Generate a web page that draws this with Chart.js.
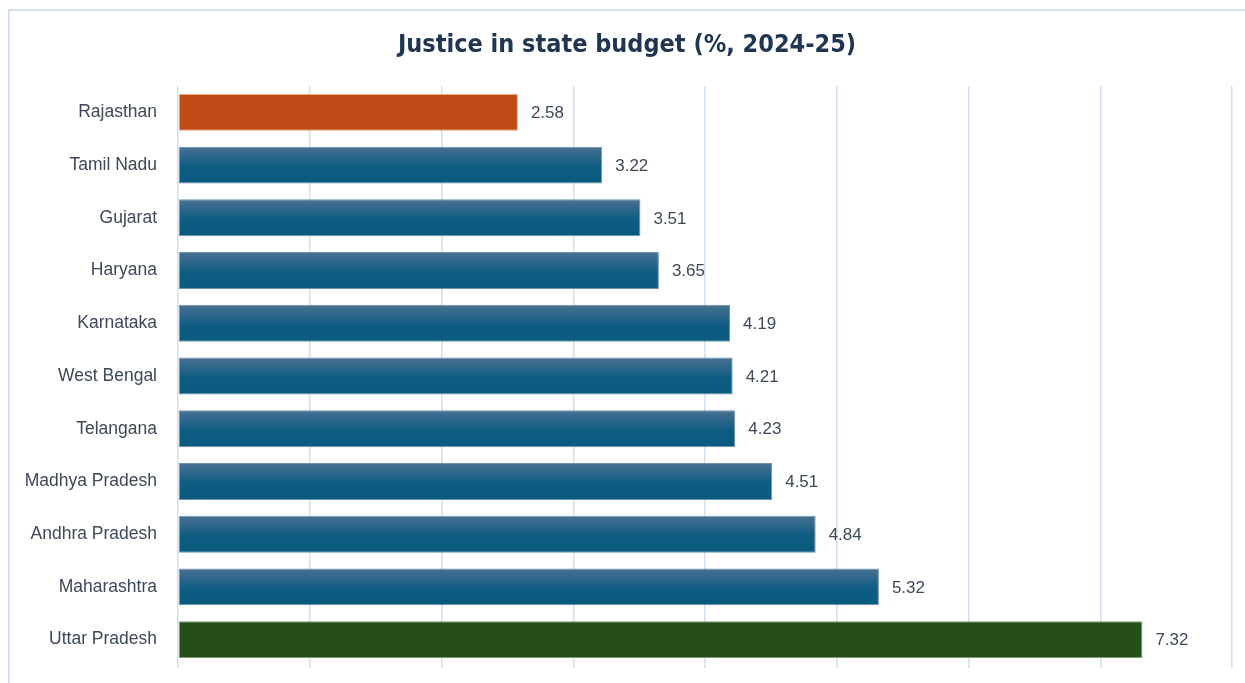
<!DOCTYPE html>
<html>
<head>
<meta charset="utf-8">
<script src="https://cdn.jsdelivr.net/npm/chart.js@4/dist/chart.umd.min.js"></script>
<style>
    body { margin: 0; background: #fff; }
    #wrap { width: 1245px; height: 683px; }
</style>
</head>
<body>
<div id="wrap"><canvas id="budgetChart" width="1245" height="683"></canvas></div>
<script>
const states = ["Rajasthan", "Tamil Nadu", "Gujarat", "Haryana", "Karnataka", "West Bengal",
    "Telangana", "Madhya Pradesh", "Andhra Pradesh", "Maharashtra", "Uttar Pradesh"];
const justiceShare = [2.58, 3.22, 3.51, 3.65, 4.19, 4.21, 4.23, 4.51, 4.84, 5.32, 7.32];
const axisMax = 8;

const labelFont = "'Liberation Sans', Arial, sans-serif";
const titleFont = "'Liberation Sans Narrow', 'DejaVu Sans Condensed', sans-serif";

// Blue bars are shaded top to bottom, the first and last have flat colours
function barFill(context) {
    const i = context.dataIndex;
    if (i === 0) return "#bf4b16";
    if (i === states.length - 1) return "#264f18";
    const chart = context.chart;
    const y = chart.scales.y;
    if (!y || !chart.chartArea) return "#0d5c82";
    const center = y.getPixelForValue(i);
    const half = 18.5;
    const grad = chart.ctx.createLinearGradient(0, center - half, 0, center + half);
    grad.addColorStop(0, "#4a7192");
    grad.addColorStop(0.55, "#0e5c82");
    grad.addColorStop(1, "#0a5a80");
    return grad;
}

function barEdge(context) {
    const i = context.dataIndex;
    if (i === 0) return "#e8a984";
    if (i === states.length - 1) return "#7f9a74";
    return "#6f93ad";
}

// Light frame in the top left corner
const framePlugin = {
    id: "frame",
    beforeDraw(chart) {
        const ctx = chart.ctx;
        ctx.save();
        ctx.strokeStyle = "#d3e1f2";
        ctx.lineWidth = 2;
        ctx.beginPath();
        ctx.moveTo(9, chart.height);
        ctx.lineTo(9, 10);
        ctx.lineTo(chart.width, 10);
        ctx.stroke();
        ctx.restore();
    }
};

// Value printed after the end of each bar
const valueLabels = {
    id: "valueLabels",
    afterDatasetsDraw(chart) {
        const ctx = chart.ctx;
        const meta = chart.getDatasetMeta(0);
        ctx.save();
        ctx.font = "17px " + labelFont;
        ctx.fillStyle = "#3d4858";
        ctx.textAlign = "left";
        ctx.textBaseline = "middle";
        meta.data.forEach((bar, i) => {
            ctx.fillText(justiceShare[i].toFixed(2), bar.x + 13, bar.y + 1);
        });
        ctx.restore();
    }
};

const ctx = document.getElementById("budgetChart").getContext("2d");
const chart = new Chart(ctx, {
    type: "bar",
    data: {
        labels: states,
        datasets: [{
            data: justiceShare,
            backgroundColor: barFill,
            borderColor: barEdge,
            borderWidth: 1,
            borderSkipped: false,
            barPercentage: 0.7,
            categoryPercentage: 1.0
        }]
    },
    options: {
        indexAxis: "y",
        responsive: false,
        animation: false,
        layout: {
            padding: { left: 22, right: 13, top: 0, bottom: 15 }
        },
        plugins: {
            legend: { display: false },
            tooltip: { enabled: false },
            title: {
                display: true,
                text: "Justice in state budget (%, 2024-25)",
                color: "#1f3552",
                font: { family: titleFont, size: 25, weight: "bold" },
                padding: { top: 30, bottom: 26 }
            }
        },
        scales: {
            x: {
                min: 0,
                max: axisMax,
                ticks: { display: false, stepSize: 1 },
                border: { display: false },
                grid: {
                    color: "#d2e0f1",
                    lineWidth: 1.5,
                    drawTicks: true,
                    tickLength: 2
                }
            },
            y: {
                ticks: {
                    color: "#3d4858",
                    font: { family: labelFont, size: 17.5 },
                    padding: 0
                },
                border: { display: false },
                // hidden grid, its tick length only spaces the labels from the bars
                grid: { display: false, drawTicks: true, tickLength: 21 },
                afterFit(scale) {
                    scale.width = 156;
                }
            }
        }
    },
    plugins: [framePlugin, valueLabels]
});
</script>
</body>
</html>
